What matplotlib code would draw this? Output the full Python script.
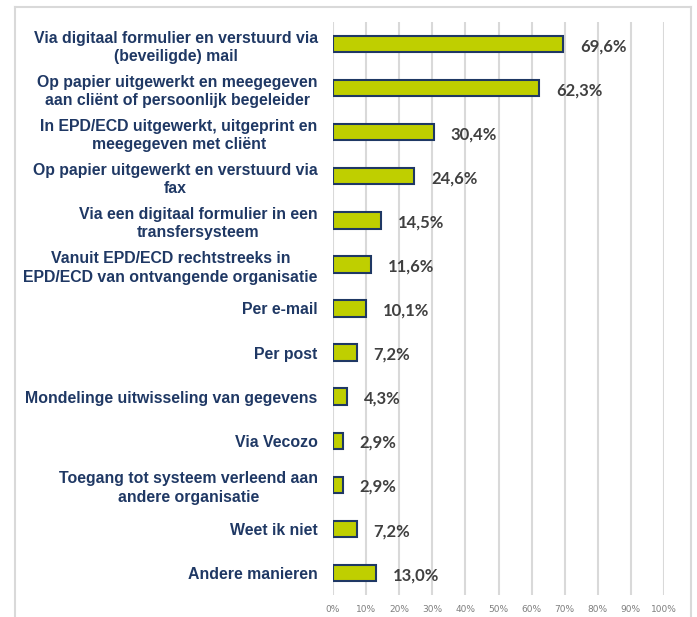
import matplotlib.pyplot as plt
from matplotlib.lines import Line2D

# data

labels = [
    "Via digitaal formulier en verstuurd via\n(beveiligde) mail",
    "Op papier uitgewerkt en meegegeven\naan cliënt of persoonlijk begeleider",
    "In EPD/ECD uitgewerkt, uitgeprint en\nmeegegeven met cliënt",
    "Op papier uitgewerkt en verstuurd via\nfax",
    "Via een digitaal formulier in een\ntransfersysteem",
    "Vanuit EPD/ECD rechtstreeks in\nEPD/ECD van ontvangende organisatie",
    "Per e-mail",
    "Per post",
    "Mondelinge uitwisseling van gegevens",
    "Via Vecozo",
    "Toegang tot systeem verleend aan\nandere organisatie",
    "Weet ik niet",
    "Andere manieren",
]
values = [69.6, 62.3, 30.4, 24.6, 14.5, 11.6, 10.1, 7.2, 4.3, 2.9, 2.9, 7.2, 13.0]
ticks = [0, 10, 20, 30, 40, 50, 60, 70, 80, 90, 100]

navy = "#1F3864"
bar_col = "#BFCF00"
grid_col = "#D9D9D9"

fig = plt.figure(figsize=(6.97, 6.17), dpi=100)

# outer frame (open at bottom)
for xs, ys in [([15, 15], [0, 610]), ([15, 691], [610, 610]), ([691, 691], [0, 610])]:
    fig.add_artist(Line2D([x / 697 for x in xs], [y / 617 for y in ys],
                          color="#D9D9D9", lw=1.5))

ax = fig.add_axes([333 / 697, 22 / 617, 331 / 697, 573 / 617])

pos = list(range(len(values)))
bars = ax.barh(pos, values, height=0.37, color=bar_col, edgecolor=navy,
               linewidth=1.5, zorder=3)

ax.set_xlim(0, 100)
ax.set_ylim(len(values) - 0.5, -0.5)
ax.set_xticks(ticks)
ax.set_xticklabels([f"{t}%" for t in ticks], fontsize=6.5, color="#7F7F7F")
ax.set_yticks(pos)
ax.set_yticklabels(labels, fontsize=11.4, fontweight="bold", color=navy,
                   family="Liberation Sans", ha="right", multialignment="center",
                   linespacing=1.3)
ax.tick_params(axis="y", length=0, pad=11)
ax.tick_params(axis="x", length=0, pad=7)
ax.grid(axis="x", color=grid_col, lw=1.5, zorder=0)
for s in ax.spines.values():
    s.set_visible(False)

for b, v in zip(bars, values):
    ax.text(v + 5, b.get_y() + b.get_height() / 2 + 0.05, f"{v:.1f}%".replace(".", ","),
            va="center", ha="left", fontsize=12, fontweight="bold",
            color="#404040", family="Lato")

plt.savefig("out.png", dpi=100)
